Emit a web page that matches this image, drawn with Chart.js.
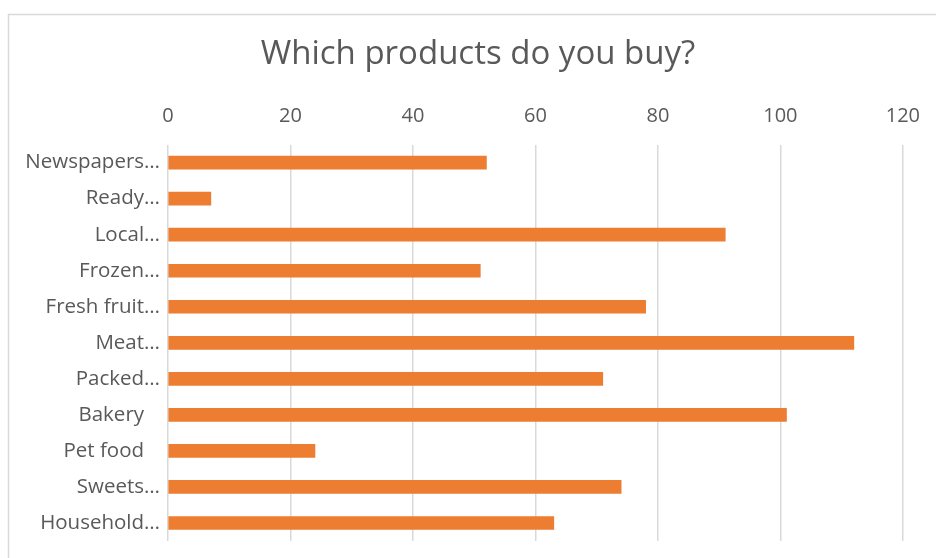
<!DOCTYPE html>
<html>
<head>
<meta charset="utf-8">
<script src="https://cdn.jsdelivr.net/npm/chart.js@4"></script>
<style>
  html, body { margin: 0; padding: 0; background: #fff; }
  #wrap { width: 936px; height: 558px; }
</style>
</head>
<body>
<div id="wrap"><canvas id="grafica" width="936" height="558"></canvas></div>
<script>
let categorias = ["Newspapers…", "Ready…", "Local…", "Frozen…", "Fresh fruit…", "Meat…",
                  "Packed…", "Bakery   ", "Pet food   ", "Sweets…", "Household…"];
let valores = [52, 7, 91, 51, 78, 112, 71, 101, 24, 74, 63];
let ticksX = [0, 20, 40, 60, 80, 100, 120];

const gris = "#595959";

// marco gris del área del gráfico
const marco = {
    id: "marco",
    beforeDraw(chart) {
        let c = chart.ctx;
        c.save();
        c.strokeStyle = "#d9d9d9";
        c.lineWidth = 1.5;
        c.strokeRect(8.5, 14.5, 2000, 2000);
        c.restore();
    }
};

let ctx = document.getElementById("grafica").getContext("2d");

let grafica = new Chart(ctx, {
    type: "bar",
    data: {
        labels: categorias,
        datasets: [{
            label: "Which products do you buy?",
            data: valores,
            backgroundColor: "#ED7D31",
            barThickness: 13
        }]
    },
    options: {
        indexAxis: "y",
        responsive: false,
        animation: false,
        layout: { padding: { left: 20, right: 0, top: 0, bottom: 17 } },
        plugins: {
            legend: { display: false },
            tooltip: { enabled: false },
            title: {
                display: true,
                text: "Which products do you buy?",
                color: gris,
                font: { family: "Open Sans", size: 33, weight: "normal" },
                padding: { top: 35, bottom: 0 }
            }
        },
        scales: {
            x: {
                position: "top",
                min: 0,
                max: 120,
                afterBuildTicks(scale) {
                    scale.ticks = ticksX.map(v => ({ value: v }));
                },
                afterFit(scale) { scale.height = 145 - 75; },
                grid: { color: "#d9d9d9", lineWidth: 1.5, drawTicks: false },
                border: { display: false },
                ticks: {
                    color: gris,
                    font: { family: "Open Sans", size: 20 },
                    padding: 16
                }
            },
            y: {
                afterFit(scale) { scale.width = 168 - 20; },
                grid: { display: false },
                border: { display: false },
                ticks: {
                    color: gris,
                    font: { family: "Open Sans", size: 20.5 },
                    padding: 0
                }
            },
            // margen vacío a la derecha del área de barras
            margen: {
                type: "linear",
                axis: "y",
                position: "right",
                afterFit(scale) { scale.width = 33; },
                grid: { display: false },
                border: { display: false },
                ticks: { display: false }
            }
        }
    },
    plugins: [marco]
});
</script>
</body>
</html>
